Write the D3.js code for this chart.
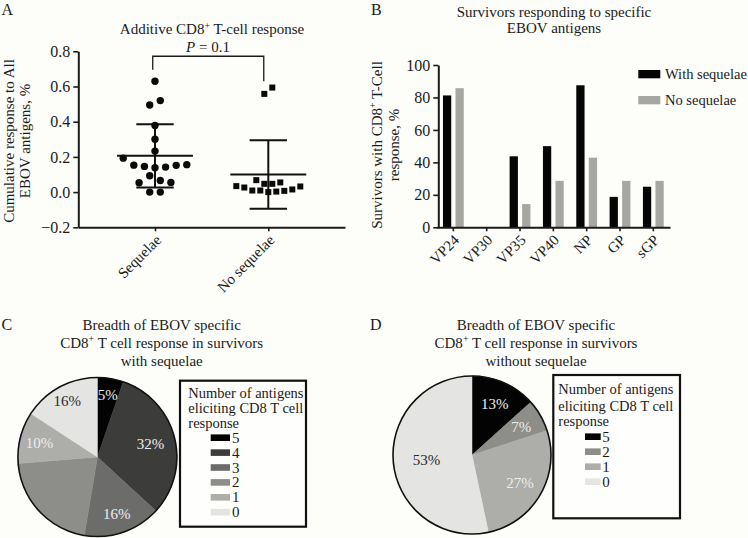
<!DOCTYPE html>
<html><head><meta charset="utf-8">
<script src="https://cdn.jsdelivr.net/npm/d3@7"></script>
<style>html,body{margin:0;padding:0;background:#fdfdf9;} svg{display:block;}</style>
</head><body><svg id="c" width="748" height="538"></svg>
<script>
// ---------------- DATA ----------------
// Panel A: cumulative response (%)
const aGroups = ["Sequelae", "No sequelae"];
const aTicks = [-0.2, 0, 0.2, 0.4, 0.6, 0.8];
const seqValues   = [0.63, 0.52, 0.495, 0.378, 0.30, 0.233, 0.193, 0.156, 0.153, 0.152, 0.146, 0.142, 0.138, 0.093, 0.066, 0.055, 0.053, 0.0, 0.0];
const noSeqValues = [0.594, 0.558, 0.068, 0.055, 0.047, 0.047, 0.034, 0.032, 0.026, 0.015, 0.009, 0.009, 0.007, 0.003, 0.0];
const aMeans = [0.206, 0.100];
const aSDs   = [0.180, 0.194];
const aPText = "0.1";
// dot-plot column (jitter) index of each point, separate from the values
const seqCols   = [0, 0.5, -0.5, 0, 0, 0, -3, 3, -2, 2, -1, 1, 0, -0.5, 0.5, 1.5, -1.5, -0.5, 0.5];
const noSeqCols = [1, -1, -3, 3, -1, 1, -8, 8, -6, 6, -4, -2, 4, 2, 0];

// Panel B: % of survivors responding to each antigen
const bCategories = ["VP24", "VP30", "VP35", "VP40", "NP", "GP", "sGP"];
const bSeries = ["With sequelae", "No sequelae"];
const withSequelae = [81.25, 0, 43.75, 50, 87.5, 18.75, 25];
const noSequelae   = [85.7, 0, 14.3, 28.6, 42.9, 28.6, 28.6];
const bTicks = [0, 20, 40, 60, 80, 100];

// Panel C / D: number of antigens eliciting a response
const cLevels = ["5", "4", "3", "2", "1", "0"];
const cCounts = [1, 6, 3, 4, 2, 3];
const cLabels = ["5%", "32%", "16%", "", "10%", "16%"];
const dLevels = ["5", "2", "1", "0"];
const dCounts = [2, 1, 4, 8];
const dLabels = ["13%", "7%", "27%", "53%"];

// ---------------- STYLE ----------------
const FONT = "'Liberation Serif','Times New Roman',serif";
const INK = "#1b1b1b";
const levelColor = {"5": "#030303", "4": "#3c3c3b", "3": "#6c6c6b", "2": "#8d8d8a", "1": "#adadaa", "0": "#e4e4e2"};
const seriesColor = {"With sequelae": "#050505", "No sequelae": "#a6a6a2"};

const svg = d3.select("#c").attr("font-family", FONT);
svg.append("rect").attr("width", 748).attr("height", 538).attr("fill", "#fdfdf9");

function rich(sel, parts, fs) {
  let shift = 0;
  parts.forEach(([s, sup]) => {
    const t = sel.append("tspan").text(s);
    if (sup) { t.attr("font-size", fs * 0.66).attr("dy", -fs * 0.38); shift = fs * 0.38; }
    else if (shift) { t.attr("dy", shift); shift = 0; }
  });
}
function label(x, y, parts, fs, anchor = "middle", rot = 0) {
  const t = svg.append("text").attr("font-size", fs).attr("fill", INK).attr("text-anchor", anchor)
    .attr("font-family", FONT)
    .attr("transform", `translate(${x},${y})` + (rot ? ` rotate(${rot})` : ""));
  rich(t, typeof parts === "string" ? [[parts]] : parts, fs);
  return t;
}
function styleAxis(g) {
  g.attr("font-family", FONT);
  g.select(".domain").attr("stroke", INK).attr("stroke-width", 2);
  g.selectAll(".tick line").attr("stroke", INK).attr("stroke-width", 1.6);
  g.selectAll(".tick text").attr("font-size", 16).attr("fill", INK).attr("font-family", FONT);
}

// panel letters
label(1.5, 15, "A", 16, "start");
label(371, 15, "B", 16, "start");
label(1.5, 330, "C", 16, "start");
label(370, 330, "D", 16, "start");

// ---------------- PANEL A ----------------
{
  const x = d3.scaleLinear().domain([0.323, 2.677]).range([78.3, 345]);
  const y = d3.scaleLinear().domain([-0.2, 0.8]).range([227.3, 51.3]);
  const circCol = 0.0935, sqCol = 0.0353;

  const gy = svg.append("g").attr("transform", "translate(78.3,0)")
    .call(d3.axisLeft(y).tickValues(aTicks).tickFormat(d3.format(".1f")).tickSize(5).tickSizeOuter(0));
  styleAxis(gy);
  const gx = svg.append("g").attr("transform", "translate(0,227.3)")
    .call(d3.axisBottom(x).tickValues([1, 2]).tickFormat((d, i) => aGroups[i]).tickSize(4).tickSizeOuter(0));
  styleAxis(gx);
  gx.selectAll(".tick text").attr("font-size", 15).attr("x", 0).attr("y", 0).attr("dy", "0.35em")
    .attr("text-anchor", "end").attr("transform", "translate(3,10) rotate(-45)");

  label(212, 34.3, [["Additive CD8"], ["+", true], [" T-cell response"]], 15);
  const p = svg.append("text").attr("x", 208).attr("y", 52).attr("font-size", 15).attr("fill", INK).attr("text-anchor", "middle");
  p.append("tspan").attr("font-style", "italic").text("P");
  p.append("tspan").text(" = " + aPText);

  label(13.5, 141, "Cumulative response to All", 15, "middle", -90);
  label(30, 141, "EBOV antigens, %", 15, "middle", -90);

  // significance bracket
  svg.append("path").attr("fill", "none").attr("stroke", INK).attr("stroke-width", 1.3)
    .attr("d", `M${x(0.98)},${y(0.695)}V${y(0.772)}H${x(1.96)}V${y(0.63)}`);

  // mean +/- SD
  aMeans.forEach((m, i) => {
    const c = i + 1, sd = aSDs[i];
    const g = svg.append("g").attr("stroke", "#111").attr("stroke-width", 2);
    g.append("line").attr("x1", x(c - 0.335)).attr("x2", x(c + 0.335)).attr("y1", y(m)).attr("y2", y(m));
    g.append("line").attr("x1", x(c)).attr("x2", x(c)).attr("y1", y(m - sd)).attr("y2", y(m + sd));
    g.append("line").attr("x1", x(c - 0.165)).attr("x2", x(c + 0.165)).attr("y1", y(m + sd)).attr("y2", y(m + sd));
    g.append("line").attr("x1", x(c - 0.165)).attr("x2", x(c + 0.165)).attr("y1", y(m - sd)).attr("y2", y(m - sd));
  });

  svg.append("g").selectAll("circle").data(seqValues).join("circle")
    .attr("cx", (d, i) => x(1 + seqCols[i] * circCol)).attr("cy", d => y(d)).attr("r", 3.7).attr("fill", "#0a0a0a");
  svg.append("g").selectAll("rect").data(noSeqValues).join("rect")
    .attr("x", (d, i) => x(2 + noSeqCols[i] * sqCol) - 3).attr("y", d => y(d) - 3)
    .attr("width", 6).attr("height", 6).attr("fill", "#0a0a0a");
}

// ---------------- PANEL B ----------------
{
  const x = d3.scaleBand().domain(bCategories).range([436.7, 670]).padding(0);
  const xi = d3.scaleBand().domain(bSeries).range([0, x.bandwidth()]).paddingInner(0.34).paddingOuter(0.5);
  const y = d3.scaleLinear().domain([0, 100]).range([227.3, 65]);
  const seriesData = {"With sequelae": withSequelae, "No sequelae": noSequelae};

  bSeries.forEach(s => {
    svg.append("g").selectAll("rect").data(seriesData[s]).join("rect")
      .attr("x", (d, i) => x(bCategories[i]) + xi(s)).attr("width", xi.bandwidth())
      .attr("y", d => y(d)).attr("height", d => y(0) - y(d)).attr("fill", seriesColor[s]);
  });

  const gy = svg.append("g").attr("transform", "translate(438.3,0)")
    .call(d3.axisLeft(y).tickValues(bTicks).tickSize(5).tickSizeOuter(0));
  styleAxis(gy);
  const gx = svg.append("g").attr("transform", "translate(0,227.3)")
    .call(d3.axisBottom(x).tickSize(4).tickSizeOuter(0));
  styleAxis(gx);
  gx.selectAll(".tick text").attr("font-size", 15).attr("x", 0).attr("y", 0).attr("dy", "0.35em")
    .attr("text-anchor", "end").attr("transform", "translate(3,10) rotate(-45)");

  label(554, 16.7, "Survivors responding to specific", 15);
  label(554, 33.3, "EBOV antigens", 15);
  label(382, 145, [["Survivors with CD8"], ["+", true], [" T-Cell"]], 15, "middle", -90);
  label(399, 145, "response, %", 15, "middle", -90);

  bSeries.forEach((s, i) => {
    const yy = 70 + i * 26;
    svg.append("rect").attr("x", 638.3).attr("y", yy).attr("width", 22).attr("height", 8.3).attr("fill", seriesColor[s]);
    label(665, yy + 8.5, s, 14.5, "start");
  });
}

// ---------------- PANELS C & D ----------------
function pieChart(cfg) {
  const {cx, cy, R, levels, counts, labels, labelR, tx, title, box, swX, swW, txX, numX, lines, items} = cfg;
  const arcs = d3.pie().sort(null).value(d => d)(counts);
  const arc = d3.arc().innerRadius(0).outerRadius(R);
  const g = svg.append("g").attr("transform", `translate(${cx},${cy})`);
  g.selectAll("path").data(arcs).join("path").attr("d", arc)
    .attr("fill", (d, i) => levelColor[levels[i]]).attr("stroke", (d, i) => levelColor[levels[i]]).attr("stroke-width", 0.5);
  g.append("circle").attr("r", R).attr("fill", "none").attr("stroke", "#111").attr("stroke-width", 1.6);
  arcs.forEach((a, i) => {
    if (!labels[i]) return;
    const [lx, ly] = d3.arc().innerRadius(R * labelR[i]).outerRadius(R * labelR[i]).centroid(a);
    g.append("text").attr("x", lx).attr("y", ly).attr("dy", "0.35em").attr("text-anchor", "middle")
      .attr("font-size", 15).attr("fill", levels[i] === "0" ? "#2a2a2a" : "#eeeeec").text(labels[i]);
  });
  // title
  label(tx, 329.5, title[0], 15);
  label(tx, 347.5, [["CD8"], ["+", true], [" T cell response in survivors"]], 15);
  label(tx, 365.5, title[1], 15);
  // legend
  svg.append("rect").attr("x", box[0]).attr("y", box[1]).attr("width", box[2]).attr("height", box[3])
    .attr("fill", "#fefefc").attr("stroke", "#111").attr("stroke-width", 2.2);
  ["Number of antigens", "eliciting CD8 T cell", "response"].forEach((t, i) => label(txX, lines[i], t, 14.5, "start"));
  levels.forEach((lv, i) => {
    const yc = items[0] + i * items[1];
    svg.append("rect").attr("x", swX).attr("y", yc - 3.3).attr("width", swW).attr("height", 6.6).attr("fill", levelColor[lv]);
    label(numX, yc + 5, lv, 15, "start");
  });
}

pieChart({cx: 97.4, cy: 457, R: 79.5, levels: cLevels, counts: cCounts, labels: cLabels,
  labelR: [0.79, 0.69, 0.75, 0.75, 0.75, 0.8], tx: 161.7,
  title: ["Breadth of EBOV specific", "with sequelae"],
  box: [180, 380.7, 126, 146], swX: 210.7, swW: 19.3, txX: 188.3, numX: 232,
  lines: [398, 413, 428], items: [437.7, 14.9]});

pieChart({cx: 472, cy: 455, R: 79, levels: dLevels, counts: dCounts, labels: dLabels,
  labelR: [0.71, 0.72, 0.70, 0.58], tx: 536,
  title: ["Breadth of EBOV specific", "without sequelae"],
  box: [553.3, 375, 126.7, 143.3], swX: 585, swW: 15.7, txX: 558.3, numX: 602.3,
  lines: [394, 410.5, 425.5], items: [436.7, 15]});
</script>
</body></html>
